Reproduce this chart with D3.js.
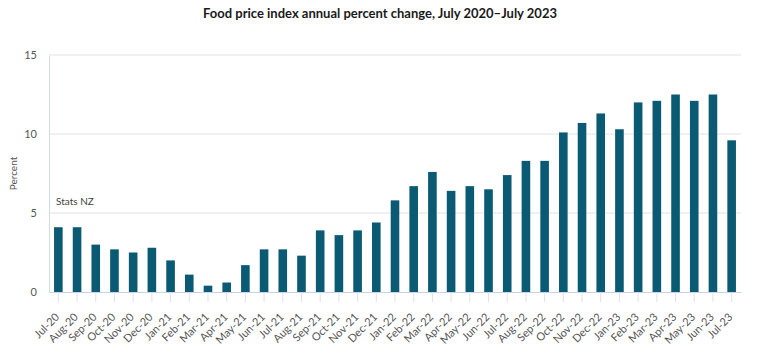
<!DOCTYPE html>
<html><head><meta charset="utf-8">
<script src="https://cdn.jsdelivr.net/npm/d3@7"></script>
<style>
body{margin:0;background:#fff;}
text{font-family:Lato, "Open Sans", sans-serif;}
</style></head>
<body><svg id="c" width="760" height="355"></svg>
<script>
const months = ["Jul-20","Aug-20","Sep-20","Oct-20","Nov-20","Dec-20","Jan-21","Feb-21","Mar-21","Apr-21","May-21","Jun-21","Jul-21","Aug-21","Sep-21","Oct-21","Nov-21","Dec-21","Jan-22","Feb-22","Mar-22","Apr-22","May-22","Jun-22","Jul-22","Aug-22","Sep-22","Oct-22","Nov-22","Dec-22","Jan-23","Feb-23","Mar-23","Apr-23","May-23","Jun-23","Jul-23"];
const values = [4.1,4.1,3.0,2.7,2.5,2.8,2.0,1.1,0.4,0.6,1.7,2.7,2.7,2.3,3.9,3.6,3.9,4.4,5.8,6.7,7.6,6.4,6.7,6.5,7.4,8.3,8.3,10.1,10.7,11.3,10.3,12.0,12.1,12.5,12.1,12.5,9.6];
const yTicks = [0,5,10,15];
const title = "Food price index annual percent change, July 2020–July 2023";
const yLabel = "Percent";
const source = "Stats NZ";

const svg = d3.select("#c");
const L = 49, R = 741, T = 55, B = 292;
const x = d3.scaleBand().domain(months).range([L, R]).paddingInner(0.54).paddingOuter(0.27);
const y = d3.scaleLinear().domain([0, 15]).range([B, T]);

svg.append("text").attr("x", 380).attr("y", 18).attr("text-anchor", "middle")
  .attr("font-size", 13).attr("font-weight", "bold").attr("fill", "#1a1a1a").text(title);

// gridlines
svg.append("g").selectAll("line").data(yTicks.filter(d => d > 0)).join("line")
  .attr("x1", L).attr("x2", R).attr("y1", d => y(d)).attr("y2", d => y(d))
  .attr("stroke", "#e2e2e2").attr("stroke-width", 1);

// y axis
const ya = svg.append("g").attr("transform", `translate(${L},0)`)
  .call(d3.axisLeft(y).tickValues(yTicks).tickSize(0).tickPadding(12));
ya.select(".domain").attr("stroke", "#d3dbe8");
ya.selectAll("text").attr("font-size", 11).attr("fill", "#555").attr("font-family", "Lato, sans-serif");

svg.append("text").attr("transform", `translate(17,${(T + B) / 2}) rotate(-90)`)
  .attr("text-anchor", "middle").attr("font-size", 10).attr("fill", "#555").text(yLabel);

svg.append("text").attr("x", 56).attr("y", 205).attr("font-size", 10).attr("fill", "#444").text(source);

// bars
svg.append("g").selectAll("rect").data(values).join("rect")
  .attr("x", (d, i) => x(months[i])).attr("width", x.bandwidth())
  .attr("y", d => y(d)).attr("height", d => B - y(d)).attr("fill", "#0b5a73");

// x axis
const xa = svg.append("g").attr("transform", `translate(0,${B})`)
  .call(d3.axisBottom(x).tickSize(10).tickSizeOuter(0).tickPadding(0));
xa.select(".domain").attr("stroke", "#c9d3e6");
xa.selectAll(".tick line").attr("stroke", "#dde0f0");
xa.selectAll("text").attr("font-size", 11).attr("fill", "#555").attr("font-family", "Lato, sans-serif")
  .attr("x", 0).attr("y", 0).attr("dy", "0.35em")
  .attr("text-anchor", "end").attr("transform", "translate(-1,23) rotate(-45)");
</script></body></html>
